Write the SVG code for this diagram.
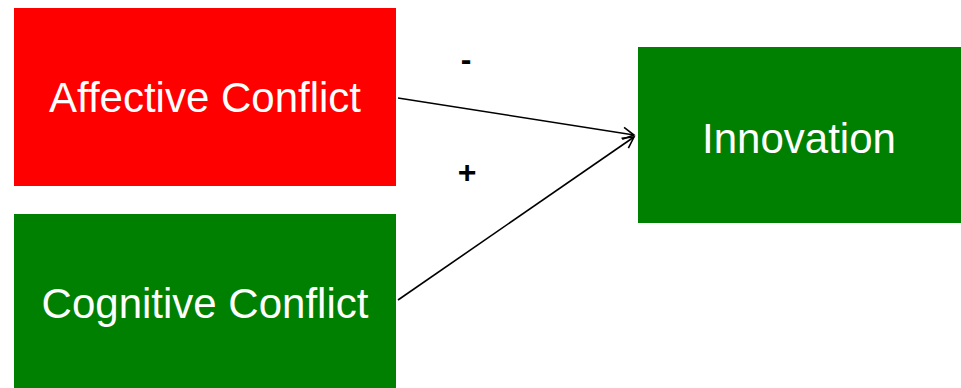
<svg xmlns="http://www.w3.org/2000/svg" width="961" height="388" viewBox="0 0 961 388">
  <style>
    .box-red { fill: #ff0000; }
    .box-green { fill: #008000; }
    .label { font-family: "Liberation Sans", Arial, sans-serif; font-size: 42px; fill: #ffffff; text-anchor: middle; }
    .sign { font-family: "Liberation Sans", Arial, sans-serif; font-size: 32px; font-weight: bold; fill: #000000; text-anchor: middle; }
    .edge { stroke: #000000; stroke-width: 1.6; fill: none; }
  </style>
  <defs>
    <marker id="arrow" markerWidth="14" markerHeight="14" refX="12" refY="7" orient="auto" markerUnits="userSpaceOnUse">
      <path d="M1,1 L12,7 L1,13" fill="none" stroke="#000000" stroke-width="1.6"/>
    </marker>
  </defs>
  <rect width="961" height="388" fill="#ffffff"/>

  <g id="affective-conflict">
    <rect class="box-red" x="14" y="8" width="382" height="178"/>
    <text class="label" x="205" y="112">Affective Conflict</text>
  </g>

  <g id="cognitive-conflict">
    <rect class="box-green" x="14" y="214" width="382" height="174"/>
    <text class="label" x="205" y="318">Cognitive Conflict</text>
  </g>

  <g id="innovation">
    <rect class="box-green" x="638" y="47" width="323" height="176"/>
    <text class="label" x="799" y="153">Innovation</text>
  </g>

  <g id="connectors">
    <line class="edge" x1="398" y1="98" x2="634" y2="135" marker-end="url(#arrow)"/>
    <line class="edge" x1="398" y1="300" x2="634" y2="137" marker-end="url(#arrow)"/>
    <text class="sign" x="466" y="70">-</text>
    <text class="sign" x="467" y="183">+</text>
  </g>
</svg>
